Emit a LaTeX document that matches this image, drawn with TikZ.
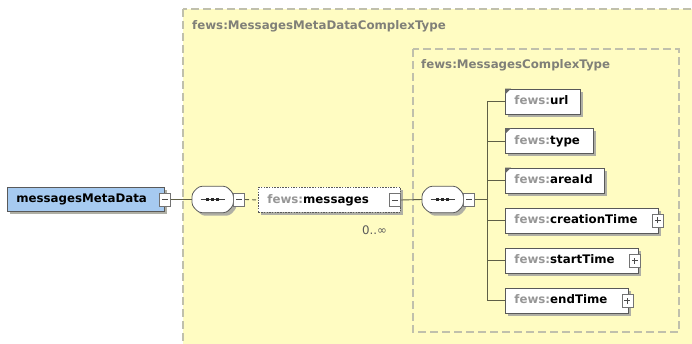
\documentclass[tikz,border=0pt]{standalone}
\usepackage{fontspec}
\setmainfont{DejaVu Sans}
\usetikzlibrary{shadows}
\definecolor{yel}{RGB}{255,252,194}
\definecolor{dashc}{RGB}{192,192,172}
\definecolor{conn}{RGB}{95,95,70}
\definecolor{elblue}{RGB}{166,202,240}
\definecolor{shad}{RGB}{175,175,165}
\definecolor{pref}{RGB}{150,150,150}
\definecolor{lab}{RGB}{128,128,120}
\newcommand\fewspre{\textcolor{pref}{fews:}}
\newcommand\lbx[2]{\makebox[#1][l]{#2}}
\begin{document}
\begin{tikzpicture}[x=1pt,y=-1pt,
 every node/.style={font=\fontsize{11.8}{13}\selectfont\bfseries},
 shd/.style={drop shadow={shadow xshift=3pt,shadow yshift=-3pt,fill=shad,opacity=1}},
 elem/.style={draw=black!65, line width=0.8pt, fill=white, minimum height=25pt,
   anchor=west, inner xsep=9pt, inner ysep=0pt, text height=8.6pt, text depth=2.4pt, shd},
 seqbox/.style={draw=none, minimum width=41pt, minimum height=26pt, inner sep=0pt, anchor=west},
 seqline/.style={draw=black!65, line width=0.8pt, fill=white, rounded corners=3pt, shd},
 pmbox/.style={draw=black!55, line width=0.6pt, fill=white, minimum width=11pt, minimum height=13pt, inner sep=0pt},
 pmsign/.style={draw=black!70, line width=0.7pt},
 cn/.style={draw=conn, line width=0.9pt},
 frame/.style={draw=dashc, dash pattern=on 8pt off 4pt, line width=1.4pt, fill=yel},
 grouplab/.style={text=lab, anchor=west, inner sep=0pt},
 corner/.style={fill=black!60}
]
\useasboundingbox (0,0) rectangle (692,344);
\clip (0,0) rectangle (692,344);
\fill[white] (0,0) rectangle (692,344);
% frames
\path[frame] (183,9) rectangle (760,400);
\node[grouplab] (lab1) at (192,26) {fews:MessagesMetaDataComplexType};
\path[frame] (413,49) rectangle (679,332);
\node[grouplab] (lab2) at (421,65) {fews:MessagesComplexType};

% main row
\node[elem, fill=elblue, minimum height=24pt] (mmd) at (7,199.5) {\lbx{139pt}{messagesMetaData}};
\node[pmbox] (mmdm) at (mmd.east) {};
\draw[pmsign] ([xshift=-3pt]mmdm.center) -- ([xshift=3pt]mmdm.center);

\node[seqbox] (s1) at (192,199.5) {};
\node[seqbox] (s2) at (422,199.5) {};
\foreach \s in {s1,s2}{
  \path[seqline] ([yshift=6pt]\s.west) -- ([xshift=7pt]\s.north west) -- ([xshift=-7pt]\s.north east)
     -- ([yshift=6pt]\s.east) -- ([yshift=-6pt]\s.east) -- ([xshift=-7pt]\s.south east)
     -- ([xshift=7pt]\s.south west) -- ([yshift=-6pt]\s.west) -- cycle;
  \draw[black!75, line width=0.8pt] ([xshift=-12pt]\s.center) -- ([xshift=12pt]\s.center);
  \foreach \dx in {-5,0,5}
    \fill[black!85] ([xshift=\dx pt]\s.center) +(-1.6,-1.6) rectangle +(1.6,1.6);
}
\node[pmbox, anchor=west] (s1m) at (s1.east) {};
\draw[pmsign] ([xshift=-3pt]s1m.center) -- ([xshift=3pt]s1m.center);
\node[pmbox, anchor=west] (s2m) at (s2.east) {};
\draw[pmsign] ([xshift=-3pt]s2m.center) -- ([xshift=3pt]s2m.center);

\node[elem, dash pattern=on 1.5pt off 1.2pt] (msg) at (258,200) {\lbx{124pt}{\fewspre messages}};
\node[pmbox] (msgm) at ([xshift=-6pt]msg.east) {};
\draw[pmsign] ([xshift=-3pt]msgm.center) -- ([xshift=3pt]msgm.center);
\node[anchor=center, inner sep=0pt, text=black!65, font=\fontsize{11.8}{13}\selectfont] (occ) at (374.5,230) {0..∞};

% children
\coordinate (bus) at (487,0);
\node[elem] (url) at (505,101.5) {\lbx{57pt}{\fewspre url}};
\node[elem] (type) at (505,141) {\lbx{70pt}{\fewspre type}};
\node[elem] (area) at (505,180.5) {\lbx{81pt}{\fewspre areaId}};
\node[elem] (ct) at (505,220.5) {\lbx{135pt}{\fewspre creationTime}};
\node[elem] (st) at (505,260.5) {\lbx{115pt}{\fewspre startTime}};
\node[elem] (et) at (505,300.5) {\lbx{105pt}{\fewspre endTime}};

\foreach \c in {url,type,area}
  \fill[corner] (\c.north west) -- ++(6,0) -- ++(-6,6) -- cycle;

\node[pmbox] (ctp) at ([xshift=-1pt]ct.east) {};
\node[pmbox] (stp) at ([xshift=-4pt]st.east) {};
\node[pmbox] (etp) at ([xshift=-1.5pt]et.east) {};
\foreach \p in {ctp,stp,etp}{
  \draw[pmsign] ([xshift=-3pt]\p.center) -- ([xshift=3pt]\p.center);
  \draw[pmsign] ([yshift=-3pt]\p.center) -- ([yshift=3pt]\p.center);
}

% connectors
\draw[cn] (mmdm.east) -- (s1.west);
\draw[cn, dash pattern=on 4pt off 3pt] (s1m.east) -- (msg.west);
\draw[cn] (msg.east) -- (s2.west);
\draw[cn] (s2m.east) -- (s2m.east -| bus);
\draw[cn] (url.west -| bus) -- (et.west -| bus);
\foreach \c in {url,type,area,ct,st,et}
  \draw[cn] (\c.west -| bus) -- (\c.west);
\end{tikzpicture}
\end{document}
